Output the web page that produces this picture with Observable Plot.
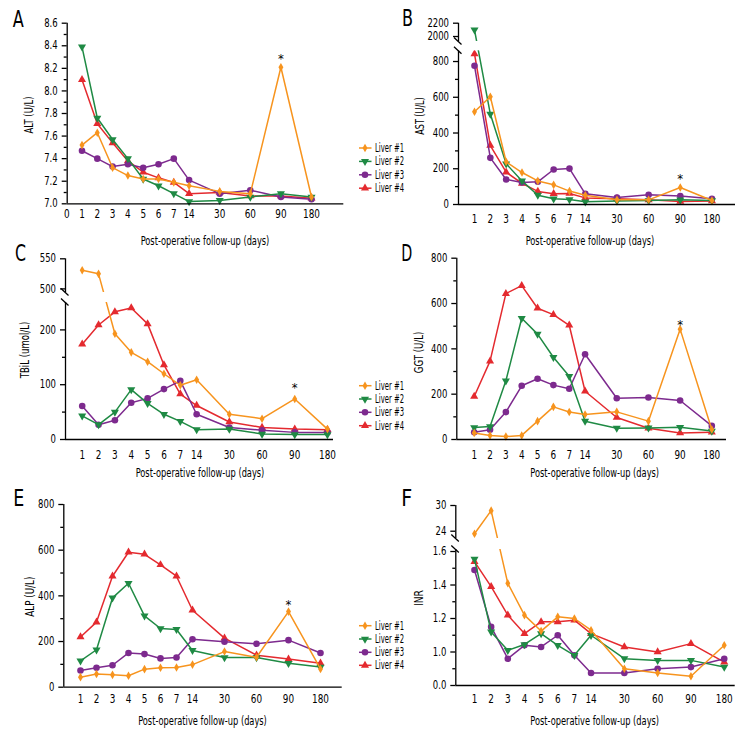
<!DOCTYPE html>
<html><head><meta charset="utf-8">
<script src="https://cdn.jsdelivr.net/npm/d3@7"></script>
<script src="https://cdn.jsdelivr.net/npm/@observablehq/plot@0.6"></script>
<style>
body{margin:0;background:#fff}
#fig{position:relative;width:756px;height:744px;overflow:hidden;background:#fff}
#fig svg{position:absolute}
</style></head><body><div id="fig"></div><script>
// ---------- data ----------
const days = ["1","2","3","4","5","6","7","14","30","60","90","180"];
const livers = ["Liver #1","Liver #2","Liver #3","Liver #4"];
const colors = ["#F7941E","#1F8A44","#7D2A8E","#E42A2F"];
const starDay = "90";

const ALT = [
  [7.52,7.63,7.32,7.25,7.22,7.22,7.19,7.16,7.11,7.09,8.21,7.06],
  [8.39,7.76,7.57,7.40,7.22,7.16,7.09,7.02,7.03,7.06,7.09,7.06],
  [7.47,7.40,7.33,7.35,7.32,7.35,7.40,7.21,7.09,7.12,7.06,7.04],
  [8.10,7.71,7.54,7.38,7.28,7.23,7.19,7.09,7.10,7.07,7.07,7.05]
];
const AST = [
  [519,603,239,179,132,110,75,52,26,26,95,22],
  [2100,506,228,132,52,32,28,15,20,22,26,22],
  [776,261,140,123,127,196,201,60,39,54,47,32],
  [843,330,181,118,73,60,62,37,32,26,17,20]
];
const TBIL = [
  [531,525,193,159,142,120,99,109,46,38,74,19],
  [43,27,50,91,66,46,33,18,19,10,9,9],
  [61,27,35,67,75,92,107,46,22,17,13,13],
  [174,209,233,240,211,136,83,62,32,22,19,18]
];
const GGT = [
  [29,18,13,18,81,144,121,110,122,81,487,44],
  [53,57,259,535,465,363,279,81,50,51,54,37],
  [32,43,121,237,268,240,224,376,182,185,172,60],
  [190,346,644,679,579,551,504,213,97,50,29,32]
];
const ALP = [
  [44,58,54,50,79,85,86,99,156,131,331,80],
  [115,164,391,455,312,257,253,161,130,130,105,88],
  [73,85,96,150,145,126,130,210,199,190,206,150],
  [220,285,486,591,582,536,486,337,215,140,123,105]
];
const INR = [
  [23.4,28.8,1.41,1.22,1.125,1.21,1.20,1.13,0.90,0.875,0.855,1.04],
  [1.555,1.12,1.01,1.045,1.11,1.04,0.98,1.10,0.96,0.95,0.95,0.91],
  [1.49,1.15,0.96,1.04,1.03,1.10,0.98,0.875,0.875,0.90,0.91,0.96],
  [1.54,1.39,1.22,1.11,1.18,1.18,1.19,1.11,1.03,1.00,1.05,0.94]
];

const altTicks = [7.0,7.2,7.4,7.6,7.8,8.0,8.2,8.4,8.6];
const altTickLabels = ["7.0","7.2","7.4","7.6","7.8","8.0","8.2","8.4","8.6"];
const altMinor = [7.1,7.3,7.5,7.7,7.9,8.1,8.3,8.5];
const astTicks = [0,200,400,600,800,2000,2200];
const astTickLabels = ["0","200","400","600","800","2000","2200"];
const astMinor = [100,300,500,700];
const tbilTicks = [0,100,200,500,550];
const tbilTickLabels = ["0","100","200","500","550"];
const tbilMinor = [50,150];
const ggtTicks = [0,200,400,600,800];
const ggtTickLabels = ["0","200","400","600","800"];
const ggtMinor = [100,300,500,700];
const alpTicks = [0,200,400,600,800];
const alpTickLabels = ["0","200","400","600","800"];
const alpMinor = [100,300,500,700];
const inrTicks = [0.8,1.0,1.2,1.4,1.6,24,30];
const inrTickLabels = ["0.0","1.0","1.2","1.4","1.6","24","30"];
const inrMinor = [0.9,1.1,1.3,1.5];

const xTitle = "Post-operative follow-up (days)";

// ---------- layout ----------
const FONT = "'Liberation Sans Narrow','Arial Narrow','DejaVu Sans Condensed',sans-serif";
const pos = i => (i < 7 ? i + 1 : 8 + 2 * (i - 7));
const triDown = {draw(ctx, size) {
  const y = -Math.sqrt(size / (3 * Math.sqrt(3)));
  ctx.moveTo(0, -2 * y); ctx.lineTo(-Math.sqrt(3) * y, y); ctx.lineTo(Math.sqrt(3) * y, y); ctx.closePath();
}};
const symbols = ["diamond", triDown, "circle", "triangle"];
const d3symbols = [d3.symbolDiamond, triDown, d3.symbolCircle, d3.symbolTriangle];
const radii = [2.6, 3.0, 3.3, 3.0];

const panels = [
  {id:"A", series:ALT, ticks:altTicks, tickLabels:altTickLabels, minor:altMinor, yLabel:"ALT (U/L)", yLen:37, xZero:true,
   left:0, top:0, h:232, axisPx:66.7, pos1Px:81.5, sx:15.3, endPx:343.3,
   yDom:[7.0,8.6], yPx:[203.3,22.7], xPad:5.8, starDy:-8.5,
   letter:[12.7,26.7], yLab:[32.5,115], xT:[205,244.5], legend:[148,161.4,174.8,188.2]},
  {id:"B", series:AST, ticks:astTicks, tickLabels:astTickLabels, minor:astMinor, yLabel:"AST (U/L)", yLen:37.5,
   left:378, top:0, h:232, axisPx:458, pos1Px:474, sx:15.83, endPx:735,
   yDom:[0,860,1925,2200], yPx:[204,50.3,41,22.7], xPad:9.8, starDy:-8.8,
   letter:[402,26.3], yLab:[423.5,116], xT:[590,244.5]},
  {id:"C", series:TBIL, ticks:tbilTicks, tickLabels:tbilTickLabels, minor:tbilMinor, yLabel:"TBiL (umol/L)", yLen:56.5,
   left:0, top:235, h:242, axisPx:65, pos1Px:81.7, sx:16.35, endPx:333,
   yDom:[0,250,494,550], yPx:[439,302,292,258.3], xPad:11, starDy:-11,
   letter:[15,261], yLab:[28.5,350], xT:[200,477.3], legend:[385.7,399,412.3,425.7]},
  {id:"D", series:GGT, ticks:ggtTicks, tickLabels:ggtTickLabels, minor:ggtMinor, yLabel:"GGT (U/L)", yLen:41.5,
   left:378, top:235, h:242, axisPx:456.3, pos1Px:473.7, sx:15.84, endPx:726,
   yDom:[0,800], yPx:[439,257.7], xPad:11, starDy:-4.5,
   letter:[401.3,261], yLab:[422.5,352.5], xT:[594.7,477.3]},
  {id:"E", series:ALP, ticks:alpTicks, tickLabels:alpTickLabels, minor:alpMinor, yLabel:"ALP (U/L)", yLen:40,
   left:0, top:480, h:262, axisPx:63.3, pos1Px:80, sx:16.0, endPx:341.7,
   yDom:[0,800], yPx:[686.7,504], xPad:7, starDy:-6.5,
   letter:[13.3,506], yLab:[33.5,596.7], xT:[202.5,725], legend:[625.7,639,652.3,665.3]},
  {id:"F", series:INR, ticks:inrTicks, tickLabels:inrTickLabels, minor:inrMinor, yLabel:"INR", yLen:16,
   left:378, top:480, h:262, axisPx:455.3, pos1Px:474, sx:16.65, endPx:734.7,
   yDom:[0.8,1.612,22.3,30], yPx:[685,549,538,505], xPad:8.8, starDy:null,
   letter:[401.3,506], yLab:[422.5,598], xT:[594.7,725]}
];

const fig = document.getElementById("fig");

for (const P of panels) {
  const W = 378;
  const pos0 = P.pos1Px - P.sx;
  const x0 = (P.axisPx - pos0) / P.sx, xEnd = (P.endPx - pos0) / P.sx;
  const ml = P.axisPx - P.left, mr = W - (P.endPx - P.left);
  const yB = P.yPx[0] - P.top, yT = P.yPx[P.yPx.length - 1] - P.top;
  const broken = P.yDom.length === 4;
  const marks = [];
  for (const s of [3, 2, 1, 0]) {
    const rows = days.map((d, i) => ({p: pos(i), v: P.series[s][i]}));
    marks.push(Plot.line(rows, {x: "p", y: "v", stroke: colors[s], strokeWidth: 1.5}));
    marks.push(Plot.dot(rows, {x: "p", y: "v", symbol: symbols[s], r: radii[s], fill: colors[s], stroke: "none"}));
  }
  if (broken) {
    marks.push(Plot.rect([[P.yDom[1], P.yDom[2]]], {x1: () => x0, x2: () => xEnd, y1: d => d[0], y2: d => d[1], fill: "white"}));
  }
  const segs = broken ? [[P.yDom[0], P.yDom[1]], [P.yDom[2], P.yDom[3]]] : [[P.yDom[0], P.yDom[1]]];
  marks.push(Plot.ruleX(segs, {x: () => x0, y1: d => d[0], y2: d => d[1], strokeWidth: 1.3}));
  marks.push(Plot.ruleY([P.yDom[0]], {strokeWidth: 1.3}));
  marks.push(Plot.axisY(P.ticks, {tickSize: 5, tickPadding: 4.5, strokeWidth: 1.3, fontSize: 11.5, label: null,
    fill: "black", tickFormat: d => P.tickLabels[P.ticks.indexOf(d)]}));
  marks.push(Plot.axisY(P.minor, {tickSize: 3, strokeWidth: 1.3, label: null, tickFormat: () => ""}));
  const xt = (P.xZero ? [0] : []).concat(days.map((d, i) => pos(i)));
  const xl = (P.xZero ? ["0"] : []).concat(days);
  marks.push(Plot.axisX(xt, {tickSize: 0, tickPadding: P.xPad, fontSize: 12, label: null, fill: "black",
    tickFormat: d => xl[xt.indexOf(d)]}));
  if (broken) {
    marks.push((index, scales) => {
      const g = d3.create("svg:g").attr("stroke", "black").attr("stroke-width", 1.3);
      for (const v of [P.yDom[1], P.yDom[2]]) {
        const X = scales.x(x0), Y = scales.y(v);
        g.append("line").attr("x1", X - 4).attr("y1", Y - 3.5).attr("x2", X + 3.5).attr("y2", Y + 3.5);
      }
      return g.node();
    });
  }
  if (P.starDy != null) {
    const si = days.indexOf(starDay);
    marks.push(Plot.text([si], {x: i => pos(i), y: i => P.series[0][i], text: () => "*", dy: P.starDy,
      fontSize: 13, fill: "black", rotate: 0.01}));
  }
  const svg = Plot.plot({
    width: W, height: P.h,
    marginLeft: ml, marginRight: mr, marginTop: yT, marginBottom: P.h - yB,
    x: {domain: [x0, xEnd], label: null},
    y: {type: "linear", domain: P.yDom, range: P.yPx.map(p => p - P.top), label: null},
    style: {background: "none", overflow: "visible", fontFamily: FONT, fontSize: "12px", color: "black"},
    marks
  });
  svg.style.left = P.left + "px";
  svg.style.top = P.top + "px";
  fig.appendChild(svg);
  // condense the tick labels to imitate the narrow typeface of the original
  svg.querySelectorAll('g[aria-label$="tick label"] text').forEach(t => {
    const w = t.getComputedTextLength();
    if (w > 0) { t.setAttribute("textLength", (w * 0.82).toFixed(2)); t.setAttribute("lengthAdjust", "spacingAndGlyphs"); }
  });
}

// ---------- text overlay: panel letters, axis titles, legends ----------
const ov = d3.select(fig).append("svg")
  .attr("width", 756).attr("height", 744)
  .style("left", "0px").style("top", "0px").style("pointer-events", "none")
  .style("font-family", FONT);

for (const P of panels) {
  ov.append("text").attr("x", P.letter[0]).attr("y", P.letter[1]).attr("font-size", 23)
    .attr("textLength", 11).attr("lengthAdjust", "spacingAndGlyphs").text(P.id);
  ov.append("text").attr("x", P.xT[0]).attr("y", P.xT[1]).attr("font-size", 12.5)
    .attr("text-anchor", "middle").attr("textLength", 128.7).attr("lengthAdjust", "spacingAndGlyphs").text(xTitle);
  ov.append("text").attr("transform", `translate(${P.yLab[0]},${P.yLab[1]}) rotate(-90)`)
    .attr("font-size", 12.5).attr("text-anchor", "middle")
    .attr("textLength", P.yLen).attr("lengthAdjust", "spacingAndGlyphs").text(P.yLabel);
  if (P.legend) {
    P.legend.forEach((cy, s) => {
      const g = ov.append("g").attr("transform", `translate(365,${cy})`);
      g.append("line").attr("x1", -6).attr("x2", 6.5).attr("stroke", colors[s]).attr("stroke-width", 1.5);
      g.append("path").attr("d", d3.symbol(d3symbols[s], Math.PI * radii[s] * radii[s])()).attr("fill", colors[s]);
      g.append("text").attr("x", 10).attr("y", 4).attr("font-size", 11.5)
        .attr("textLength", 29).attr("lengthAdjust", "spacingAndGlyphs").text(livers[s]);
    });
  }
}
</script></body></html>
